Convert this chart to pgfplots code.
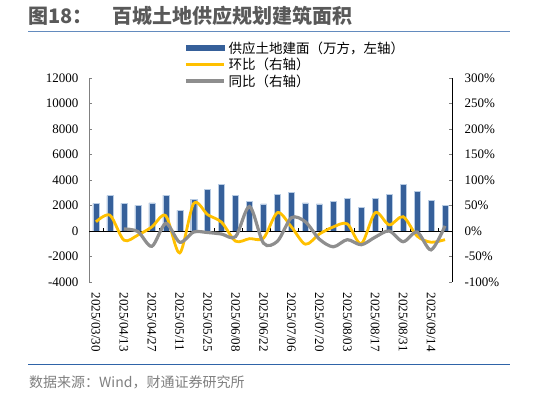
\documentclass[border=0pt]{standalone}
\usepackage{pgfplots}
\pgfplotsset{compat=1.18}
\usepackage{fontspec}
\setmainfont{Liberation Serif}
\newfontfamily\cjk{Noto Sans CJK SC}
\definecolor{barblue}{HTML}{36609A}
\definecolor{baredge}{HTML}{B8CCE4}
\definecolor{hbyellow}{HTML}{FFC000}
\definecolor{tbgray}{HTML}{8E8E8E}
\definecolor{titlegray}{HTML}{595959}
\definecolor{ruleblue}{HTML}{2F64A8}
\definecolor{srcgray}{HTML}{7F7F7F}

\pgfplotstableread{
x y
0 2170
1 2770
2 2170
3 2010
4 2200
5 2820
6 1620
7 2490
8 3240
9 3660
10 2800
11 2350
12 2120
13 2880
14 3030
15 2200
16 2120
17 2300
18 2560
19 1880
20 2540
21 2850
22 3660
23 3110
24 2380
25 1990
}\barsdata

\pgfplotstableread{
x y
0 18
1 31
2 -18
3 -8
4 8
5 30
6 -43
7 54
8 32
9 17
10 -20
11 -15
12 -14
13 36
14 8
15 -26
16 -6
17 8
18 14
19 -25
20 36
21 12
22 28
23 -10
24 -22
25 -17
}\hbdata

\pgfplotstableread{
x y
2 4
3 -1
4 -30
5 15
6 -22
7 -2
8 -3
9 -6
10 -11
11 48
12 -24
13 -20
14 26
15 18
16 -16
17 -31
18 -17
19 -27
20 -12
21 0
22 -21
23 -2
24 -37
25 10
}\tbdata

\begin{document}
\begin{tikzpicture}
\useasboundingbox (0,0) rectangle (533pt,395pt);
\node[anchor=west, text=titlegray, inner sep=0pt, font={\cjk\fontsize{20}{22}\selectfont\bfseries}] at (28pt,379pt) {图18：};
\node[anchor=west, text=titlegray, inner sep=0pt, font={\cjk\fontsize{20}{22}\selectfont\bfseries}] at (112pt,379pt) {百城土地供应规划建筑面积};
\draw[ruleblue!75, line width=1pt] (28pt,363pt) -- (510pt,363pt);
\draw[ruleblue, line width=1pt] (28pt,30pt) -- (510pt,30pt);
\node[anchor=west, text=srcgray, inner sep=0pt, font={\cjk\fontsize{14}{16}\selectfont}] at (29pt,13pt) {数据来源：Wind，财通证券研究所};

\begin{axis}[
  at={(89pt,113pt)}, anchor=south west, scale only axis,
  width=363pt, height=204pt,
  xmin=-0.5, xmax=25.5, ymin=-4000, ymax=12000,
  axis y line*=left, axis x line*=bottom,
  x axis line style={draw=none},
  y axis line style={gray}, y tick style={gray},
  scaled y ticks=false,
  ytick={-4000,-2000,0,2000,4000,6000,8000,10000,12000},
  yticklabels={-4000,-2000,0,2000,4000,6000,8000,10000,12000},
  xtick={0,2,4,6,8,10,12,14,16,18,20,22,24},
  xticklabels={2025/03/30,2025/04/13,2025/04/27,2025/05/11,2025/05/25,2025/06/08,2025/06/22,2025/07/06,2025/07/20,2025/08/03,2025/08/17,2025/08/31,2025/09/14},
  x tick style={draw=none},
  tick align=inside, major tick length=3pt,
  ticklabel style={font=\fontsize{13}{15}\selectfont},
  yticklabel style={xshift=-7pt},
  xticklabel style={yshift=-4pt, rotate=-90, anchor=west},
  ybar, bar width=6pt,
  clip=false,
]
\addplot[fill=barblue, draw=baredge, line width=0.4pt] table {\barsdata};
\end{axis}

\begin{axis}[
  at={(89pt,113pt)}, anchor=south west, scale only axis,
  width=363pt, height=204pt,
  xmin=-0.5, xmax=25.5, ymin=-100, ymax=300,
  axis y line*=right, axis x line=none,
  scaled y ticks=false,
  ytick={-100,-50,0,50,100,150,200,250,300},
  yticklabels={-100\%,-50\%,0\%,50\%,100\%,150\%,200\%,250\%,300\%},
  tick align=inside, major tick length=3pt,
  ticklabel style={font=\fontsize{13}{15}\selectfont},
  yticklabel style={xshift=9pt},
  clip=false,
  legend style={draw=none, fill=none, at={(0.262,1.185)}, anchor=north west,
    font={\cjk\fontsize{13.5}{15}\selectfont}, inner sep=0pt,
    nodes={inner ysep=1pt, inner xsep=3pt}, row sep=1.5pt},
  legend cell align=left,
  legend image code/.code={\draw[#1] (0pt,0pt) -- (38pt,0pt);},
]
\addplot[black, line width=0.8pt, forget plot] coordinates {(-0.5,0) (25.5,0)};
\addplot[black, line width=0.6pt, ycomb, forget plot] coordinates {(0.5,6) (2.5,6) (4.5,6) (6.5,6) (8.5,6) (10.5,6) (12.5,6) (14.5,6) (16.5,6) (18.5,6) (20.5,6) (22.5,6) (24.5,6)};
\addlegendimage{legend image code/.code={\fill[barblue] (0pt,-2.5pt) rectangle (38pt,2.5pt);}}
\addlegendentry{供应土地建面（万方，左轴）}
\addplot[hbyellow, line width=2.8pt, smooth, tension=0.5] table {\hbdata};
\addlegendentry{环比（右轴）}
\addplot[draw=tbgray, line width=3.2pt, smooth, tension=0.5] table {\tbdata};
\addlegendentry{同比（右轴）}
\end{axis}
\end{tikzpicture}
\end{document}
